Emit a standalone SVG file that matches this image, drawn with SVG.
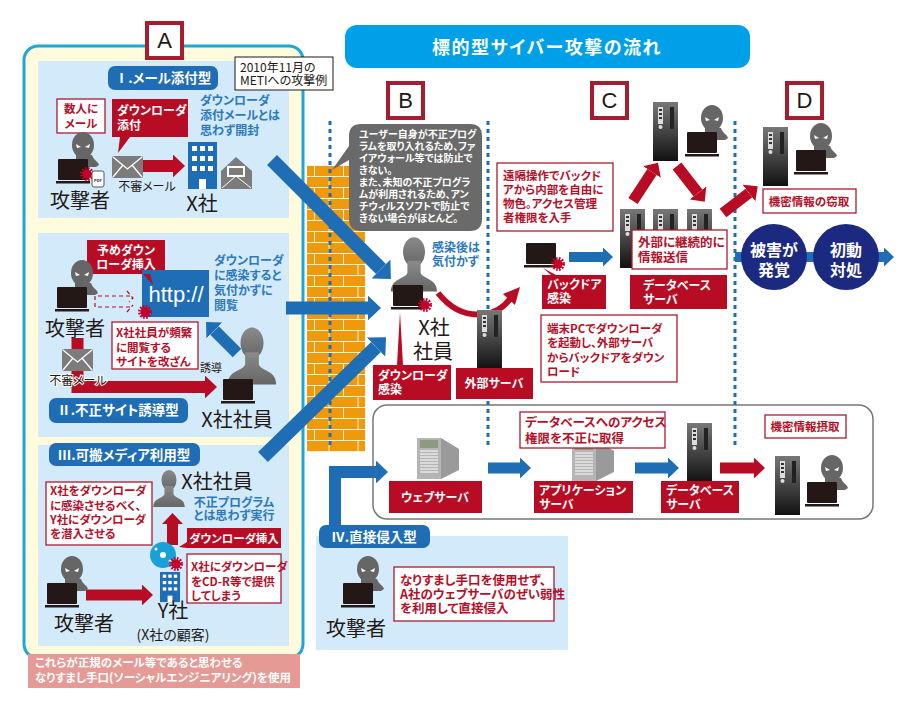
<svg xmlns="http://www.w3.org/2000/svg" xmlns:xlink="http://www.w3.org/1999/xlink" width="917" height="708" viewBox="0 0 917 708">
<style>
text{font-family:"Noto Sans CJK JP","Noto Sans CJK SC",sans-serif;font-feature-settings:"palt"}
.panel{fill:#d3eafa}
.lab{fill:#1e6db5}
.wb{fill:#fff;font-weight:700;font-size:12px}
.rb{fill:#b5102a;font-weight:700;font-size:11.5px}
.bl{fill:#2c79bb;font-weight:700;font-size:12px}
.k{fill:#231815;font-size:20px}
.lt{fill:#fff;font-weight:700;font-size:13.5px}
.rbox{fill:#fff;stroke:#a81c30;stroke-width:1.3}
.rf{fill:#b80c24}
.let{fill:#fff;stroke:#a81c30;stroke-width:4}
.abc{fill:#231815;font-size:22px;text-anchor:middle;font-family:"Liberation Sans",sans-serif}
.ctr{text-anchor:middle}
.dot{stroke:#1e6db5;stroke-width:3;stroke-dasharray:4 4;fill:none}
.ab{stroke:#1e6db5;fill:none;marker-end:url(#hb)}
.ar{stroke:#b80c24;fill:none;marker-end:url(#hr)}
</style>
<defs>
<marker id="hb" viewBox="0 0 10 19" refX="0" refY="9.5" markerWidth="1" markerHeight="1.9" orient="auto"><path d="M0 0L10 9.5L0 19z" fill="#1e6db5"/></marker>
<marker id="hr" viewBox="0 0 10 19" refX="0" refY="9.5" markerWidth="1" markerHeight="1.9" orient="auto"><path d="M0 0L10 9.5L0 19z" fill="#b80c24"/></marker>
<linearGradient id="sg" x1="0" y1="0" x2="0" y2="1"><stop offset="0" stop-color="#777"/><stop offset=".5" stop-color="#444"/><stop offset="1" stop-color="#111"/></linearGradient>
<linearGradient id="pg" x1="0" y1="0" x2="0" y2="1"><stop offset="0" stop-color="#8a8a8a"/><stop offset="1" stop-color="#666"/></linearGradient>
<pattern id="brick" width="29" height="22" patternUnits="userSpaceOnUse" x="307" y="165">
<rect width="29" height="22" fill="#ee9a0c"/>
<path d="M0 .5H29M0 11.500H29M7.500 0V11M22 11V22" stroke="#fff3d8" stroke-width="1" fill="none"/>
</pattern>
<g id="laptop"><rect width="30" height="21" rx="1" fill="#231815"/><rect x="-2" y="22" width="34" height="2.500" fill="#231815"/></g>
<g id="attacker">
<path d="M18 -4H34C36 2 40 2 41 6L38 8H18z" fill="#666"/>
<ellipse cx="25" cy="-14" rx="11" ry="13" fill="#666"/>
<path d="M18 -15L23 -12L19 -11zM32 -15L27 -12L31 -11z" fill="#fff"/>
<use xlink:href="#laptop" href="#laptop"/>
</g>
<g id="person"><ellipse rx="10" ry="13.500" fill="url(#pg)"/><path d="M-21 36C-21 24 -9 25 -6 19V8H6V19C9 25 21 24 21 36z" fill="url(#pg)"/></g>
<g id="burst"><circle r="4.500" fill="#c4002b"/><circle r="5.500" fill="none" stroke="#c4002b" stroke-width="3" stroke-dasharray="1.600 1.300"/></g>
<g id="mail"><rect width="31" height="22" rx="2" fill="#7c7c7c"/><path d="M1 1L15.500 13L30 1M1 21L11 9M30 21L20 9" stroke="#fff" stroke-width="1.300" fill="none"/></g>
<g id="server"><rect width="25" height="59" fill="url(#sg)"/><rect x="5" y="5" width="5" height="17" fill="#ddd"/><rect x="6" y="7" width="3" height="2" fill="#333"/><rect x="6" y="11" width="3" height="2" fill="#333"/><rect x="6" y="15" width="3" height="2" fill="#333"/><circle cx="7.500" cy="25" r="2" fill="#ddd"/><rect x="17" y="5" width="4" height="22" fill="#222"/></g>
<g id="rack"><path d="M24 0L42 11V32L24 41z" fill="#9a9a9a"/><rect width="24" height="41" fill="#b5b5b5"/><rect x="3" y="2" width="18" height="8" fill="#8c9a80"/><path d="M3 13H21M3 16H21M3 19H21M3 22H21M3 25H21M3 28H21M3 31H21M3 34H21" stroke="#fff" stroke-width="1"/></g>
<g id="building"><rect width="29" height="47" fill="#1e6db5"/><g fill="#fff"><rect x="4" y="4" width="5" height="5"/><rect x="12" y="4" width="5" height="5"/><rect x="20" y="4" width="5" height="5"/><rect x="4" y="14" width="5" height="5"/><rect x="12" y="14" width="5" height="5"/><rect x="20" y="14" width="5" height="5"/><rect x="4" y="24" width="5" height="5"/><rect x="12" y="24" width="5" height="5"/><rect x="20" y="24" width="5" height="5"/><rect x="11" y="37" width="7" height="10"/></g></g>
</defs>

<g id="backgrounds">
<rect x="24" y="46" width="279" height="612" rx="14" fill="#fffbdc" stroke="#1ea7d6" stroke-width="3"/>
<rect class="panel" x="38" y="61" width="251" height="157"/>
<rect class="panel" x="38" y="233" width="251" height="204"/>
<rect class="panel" x="38" y="445" width="251" height="201"/>
<rect x="307" y="165" width="58" height="287" fill="url(#brick)"/>
<rect x="373" y="405" width="500" height="114" rx="14" fill="#fff" stroke="#777" stroke-width="1.500"/>
<rect class="panel" x="316" y="536" width="252" height="114"/>
<line class="dot" x1="330" y1="121" x2="330" y2="447"/>
<line class="dot" x1="488" y1="121" x2="488" y2="447"/>
<line class="dot" x1="735" y1="121" x2="735" y2="447"/>
</g>

<g id="connectors">
<line class="ab" stroke-width="14" x1="272" y1="160" x2="381" y2="269"/>
<line class="ab" stroke-width="13" x1="286" y1="308" x2="368" y2="308"/>
<line class="ab" stroke-width="14" x1="263" y1="457" x2="376" y2="347"/>
<line class="ar" stroke-width="12" x1="143" y1="166" x2="173" y2="166"/>
<path class="ar" stroke-width="12" d="M77.500 338V387H205"/>
<line class="ab" stroke-width="12" x1="237" y1="353" x2="214.500" y2="330.500"/>
<path d="M130 296H95V307H130M127 291L133 298L129 302M127 312L133 305" stroke="#b80c24" stroke-width="1.200" stroke-dasharray="4 3" fill="none"/>
<line class="ar" stroke-width="11" x1="172.500" y1="545" x2="172.500" y2="524"/>
<line class="ar" stroke-width="11" x1="86" y1="595" x2="142" y2="595"/>
<path d="M438 293Q458 318 485 314Q500 312 510 299" stroke="#b80c24" stroke-width="6" fill="none"/>
<polygon points="520,287 503,294 515,305" fill="#b80c24"/>
<line class="ab" stroke-width="10" x1="569" y1="257" x2="603" y2="257"/>
<line class="ar" stroke-width="11" x1="633" y1="201" x2="652" y2="172"/>
<line class="ar" stroke-width="11" x1="677" y1="166" x2="698" y2="193"/>
<line class="ar" stroke-width="11" x1="723" y1="213" x2="749" y2="193"/>
<line class="ab" stroke-width="10" x1="735" y1="257" x2="884" y2="257"/>
<line class="ab" stroke-width="11" x1="488" y1="468" x2="520" y2="468"/>
<line class="ab" stroke-width="11" x1="635" y1="468" x2="668" y2="468"/>
<line class="ar" stroke-width="11" x1="720" y1="468" x2="754" y2="468"/>
<path class="ab" stroke-width="12" d="M335 527V472H376"/>
</g>

<g id="title"><rect x="345" y="25" width="405" height="43" rx="12" fill="#00a0e9"/><text x="547" y="54" class="ctr" fill="#fff" font-weight="700" font-size="18" letter-spacing="1.500">標的型サイバー攻撃の流れ</text></g>

<g id="tagA"><rect class="let" x="147" y="23" width="35" height="35"/><text class="abc" x="164.500" y="48">A</text></g>
<g id="tagB"><rect class="let" x="388" y="83" width="35" height="35"/><text class="abc" x="405.500" y="108">B</text></g>
<g id="tagC"><rect class="let" x="592" y="83" width="35" height="35"/><text class="abc" x="609.500" y="108">C</text></g>
<g id="tagD"><rect class="let" x="787" y="83" width="35" height="35"/><text class="abc" x="804.500" y="108">D</text></g>

<g id="meti"><rect x="235" y="57" width="98" height="33" fill="#fff" stroke="#231815"/><text x="240" y="72" font-size="12" fill="#231815">2010年11月の</text><text x="240" y="85" font-size="12" fill="#231815">METIへの攻撃例</text></g>

<g id="type1">
<rect class="lab" x="108" y="66" width="110" height="24" rx="7"/><text class="lt ctr" x="163" y="83">Ⅰ.メール添付型</text>
<rect class="rbox" x="57" y="99" width="48" height="34"/><text class="rb ctr" x="81" y="113">数人に</text><text class="rb ctr" x="81" y="128">メール</text>
<path class="rf" d="M112 99H188V137H130L118 153L120 137H112z"/><text class="wb" x="117" y="115">ダウンローダ</text><text class="wb" x="117" y="130">添付</text>
<text class="bl" x="200" y="105">ダウンローダ</text><text class="bl" x="200" y="120">添付メールとは</text><text class="bl" x="200" y="135">思わず開封</text>
<use href="#attacker" x="58" y="159"/>
<use href="#burst" x="87" y="174"/>
<rect x="92" y="171" width="12" height="16" rx="2" fill="#fff" stroke="#555"/><text x="98" y="182" class="ctr" font-size="4" fill="#333" font-weight="700">PDF</text>
<text class="k ctr" x="80" y="208">攻撃者</text>
<use href="#mail" x="112" y="156"/>
<text class="ctr" x="147" y="191" font-size="12" fill="#231815">不審メール</text>
<use href="#building" x="188" y="142"/>
<text class="k ctr" x="202" y="211">X社</text>
<path d="M221 171L236 157L252 171V189H221z" fill="#7c7c7c"/><rect x="227" y="166" width="18" height="11" fill="#fff"/><rect x="229" y="168" width="14" height="7" fill="#7c7c7c"/><path d="M222 188L236 176L251 188" stroke="#fff" fill="none"/>
</g>

<g id="type2">
<path class="rf" d="M87 240H165V274H151L153 285L142 274H87z"/>
<rect class="lab" x="142" y="270" width="67" height="47"/>
<path class="rf" d="M143 274H150L153 285z"/>
<text class="wb ctr" x="126" y="255">予めダウン</text><text class="wb ctr" x="126" y="269">ローダ挿入</text>
<text x="176" y="302" class="ctr" fill="#fff" style="font-size:22px;font-family:'Liberation Sans',sans-serif">http://</text>
<use href="#burst" x="145" y="312"/>
<use href="#attacker" x="57" y="287"/>
<text class="k ctr" x="75" y="336">攻撃者</text>
<rect class="rbox" x="112" y="322" width="86" height="47"/>
<text class="rb" x="116" y="337">X社社員が頻繁</text><text class="rb" x="116" y="352">に閲覧する</text><text class="rb" x="116" y="366">サイトを改ざん</text>
<text class="bl" x="214" y="265">ダウンローダ</text><text class="bl" x="214" y="280">に感染すると</text><text class="bl" x="214" y="295">気付かずに</text><text class="bl" x="214" y="310">閲覧</text>
<use href="#mail" x="62" y="349"/>
<text class="ctr" x="78" y="385" font-size="12" fill="#231815" stroke="#fff" stroke-width="2" paint-order="stroke">不審メール</text>
<text class="ctr" x="211" y="372" font-size="11" fill="#231815">誘導</text>
<use href="#person" transform="translate(252,343) scale(1.150)"/>
<use href="#laptop" x="223" y="379"/>
<text class="k ctr" x="237" y="427">X社社員</text>
<rect class="lab" x="49" y="398" width="139" height="25" rx="7"/><text class="lt ctr" x="118" y="415">Ⅱ.不正サイト誘導型</text>
</g>

<g id="type3">
<rect class="lab" x="49" y="443" width="151" height="23" rx="7"/><text class="lt ctr" x="124" y="460">Ⅲ.可搬メディア利用型</text>
<use href="#person" transform="translate(169,480) scale(.75)"/>
<text class="k ctr" x="217" y="489">X社社員</text>
<text class="bl ctr" x="234" y="507">不正プログラム</text><text class="bl ctr" x="234" y="520">とは思わず実行</text>
<rect class="rbox" x="46" y="482" width="106" height="63"/>
<text class="rb" x="50" y="495">X社をダウンローダ</text><text class="rb" x="50" y="510">に感染させるべく、</text><text class="rb" x="50" y="524">Y社にダウンローダ</text><text class="rb" x="50" y="538">を潜入させる</text>
<path class="rf" d="M187 528H281V548H187L179 547L187 542z"/><text class="wb ctr" x="234" y="543" style="font-size:11.500px">ダウンローダ挿入</text>
<rect class="rbox" x="187" y="554" width="94" height="49"/>
<text class="rb" x="191" y="571">X社にダウンローダ</text><text class="rb" x="191" y="586">をCD-R等で提供</text><text class="rb" x="191" y="600">してしまう</text>
<circle cx="163" cy="555" r="13" fill="#18a0d8"/><circle cx="163" cy="555" r="3" fill="#fff"/><circle cx="156" cy="549" r="1.500" fill="#fff"/><circle cx="170" cy="561" r="1.500" fill="#fff"/>
<use href="#burst" x="176" y="564"/>
<use href="#building" transform="translate(160,572) scale(.69,.64)"/>
<use href="#attacker" x="47" y="583"/>
<text class="k ctr" x="84" y="631">攻撃者</text>
<text class="k ctr" x="173" y="618">Y社</text>
<text class="ctr" x="173" y="640" font-size="14" fill="#231815">(X社の顧客)</text>
</g>

<g id="pinkNote"><rect x="28" y="654" width="272" height="34" fill="#e59a95"/><text x="35" y="667" fill="#fff" font-size="11.500" font-weight="700">これらが正規のメール等であると思わせる</text><text x="35" y="682" fill="#fff" font-size="11.500" font-weight="700">なりすまし手口(ソーシャルエンジニアリング)を使用</text></g>

<g id="stageB">
<path d="M361 124H470Q482 124 482 136V219Q482 231 470 231H361Q349 231 349 219V160L332 170L349 146V136Q349 124 361 124z" fill="#6a6a6a"/>
<g fill="#fff" font-weight="700" font-size="10">
<text x="359" y="138">ユーザー自身が不正プログ</text><text x="359" y="150">ラムを取り入れるため、ファ</text><text x="359" y="162">イアウォール等では防止で</text><text x="359" y="174">きない。</text><text x="359" y="186">また、未知の不正プログラ</text><text x="359" y="198">ムが利用されるため、アン</text><text x="359" y="210">チウィルスソフトで防止で</text><text x="359" y="222">きない場合がほとんど。</text>
</g>
<use href="#person" transform="translate(414,252) scale(1.100)"/>
<use href="#laptop" x="393" y="285"/>
<use href="#burst" x="425" y="305"/>
<text class="bl" x="432" y="252">感染後は</text><text class="bl" x="432" y="266">気付かず</text>
<text class="k ctr" x="434" y="335">X社</text><text class="k ctr" x="433" y="359">社員</text>
<path class="rf" d="M400 312L403 365H451V400H373V365H397z"/>
<text class="wb" x="378" y="380">ダウンローダ</text><text class="wb" x="378" y="394">感染</text>
<use href="#server" x="477" y="310"/>
<rect class="rf" x="456" y="368" width="77" height="31"/><text class="wb ctr" x="494" y="388">外部サーバ</text>
</g>

<g id="stageC">
<rect class="rbox" x="497" y="163" width="116" height="68"/>
<text class="rb" x="503" y="180">遠隔操作でバックド</text><text class="rb" x="503" y="194">アから内部を自由に</text><text class="rb" x="503" y="208">物色。アクセス管理</text><text class="rb" x="503" y="222">者権限を入手</text>
<use href="#laptop" x="526" y="243"/>
<path class="rf" d="M543 268L556 275H606V309H542V275H551z"/>
<use href="#burst" x="558" y="264"/>
<text class="wb" x="547" y="289">バックドア</text><text class="wb" x="547" y="303">感染</text>
<rect class="rbox" x="541" y="315" width="136" height="67"/>
<text class="rb" x="547" y="333">端末PCでダウンローダ</text><text class="rb" x="547" y="347">を起動し、外部サーバ</text><text class="rb" x="547" y="362">からバックドアをダウン</text><text class="rb" x="547" y="376">ロード</text>
<use href="#server" x="653" y="102"/>
<use href="#attacker" x="687" y="132"/>
<use href="#server" x="620" y="209"/><use href="#server" x="653" y="209"/><use href="#server" x="687" y="209"/>
<rect class="rbox" x="632" y="230" width="95" height="39"/>
<text class="rb" x="638" y="247" style="font-size:12.500px">外部に継続的に</text><text class="rb" x="638" y="262" style="font-size:12.500px">情報送信</text>
<rect class="rf" x="630" y="275" width="97" height="34"/><text class="wb" x="643" y="290">データベース</text><text class="wb" x="643" y="304">サーバ</text>
</g>

<g id="stageD">
<use href="#server" x="763" y="127"/>
<use href="#attacker" x="796" y="150"/>
<rect class="rbox" x="763" y="189" width="93" height="24"/><text class="rb ctr" x="809" y="206">機密情報の窃取</text>
<circle cx="774" cy="257" r="33" fill="#1b2a80"/><text class="ctr" x="774" y="256" fill="#fff" font-weight="700" font-size="16">被害が</text><text class="ctr" x="774" y="276" fill="#fff" font-weight="700" font-size="16">発覚</text>
<circle cx="846" cy="257" r="33" fill="#1b2a80"/><text class="ctr" x="846" y="256" fill="#fff" font-weight="700" font-size="16">初動</text><text class="ctr" x="846" y="276" fill="#fff" font-weight="700" font-size="16">対処</text>
</g>

<g id="type4Flow">
<use href="#rack" x="417" y="438"/>
<rect class="rf" x="389" y="481" width="93" height="32"/><text class="wb ctr" x="435" y="502">ウェブサーバ</text>
<use href="#rack" x="572" y="440"/>
<rect class="rbox" x="520" y="412" width="145" height="36"/>
<text class="rb" x="525" y="427" style="font-size:12.500px">データベースへのアクセス</text><text class="rb" x="525" y="443" style="font-size:12.500px">権限を不正に取得</text>
<rect class="rf" x="534" y="481" width="99" height="32"/><text class="wb" x="539" y="495">アプリケーション</text><text class="wb" x="539" y="509">サーバ</text>
<use href="#server" x="687" y="423"/>
<rect class="rf" x="661" y="481" width="78" height="32"/><text class="wb" x="666" y="495">データベース</text><text class="wb" x="666" y="509">サーバ</text>
<use href="#server" x="775" y="456"/>
<use href="#attacker" x="807" y="482"/>
<rect class="rbox" x="765" y="415" width="81" height="23"/><text class="rb ctr" x="805" y="431">機密情報摂取</text>
</g>

<g id="type4">
<rect class="lab" x="319" y="525" width="111" height="23" rx="7"/><text class="lt ctr" x="374" y="542">Ⅳ.直接侵入型</text>
<use href="#attacker" x="343" y="583"/>
<text class="k ctr" x="356" y="636">攻撃者</text>
<rect class="rbox" x="394" y="567" width="160" height="54"/>
<text class="rb" x="400" y="585" style="font-size:12.500px">なりすまし手口を使用せず、</text><text class="rb" x="400" y="599" style="font-size:12.500px">A社のウェブサーバのぜい弱性</text><text class="rb" x="400" y="613" style="font-size:12.500px">を利用して直接侵入</text>
</g>
</svg>
